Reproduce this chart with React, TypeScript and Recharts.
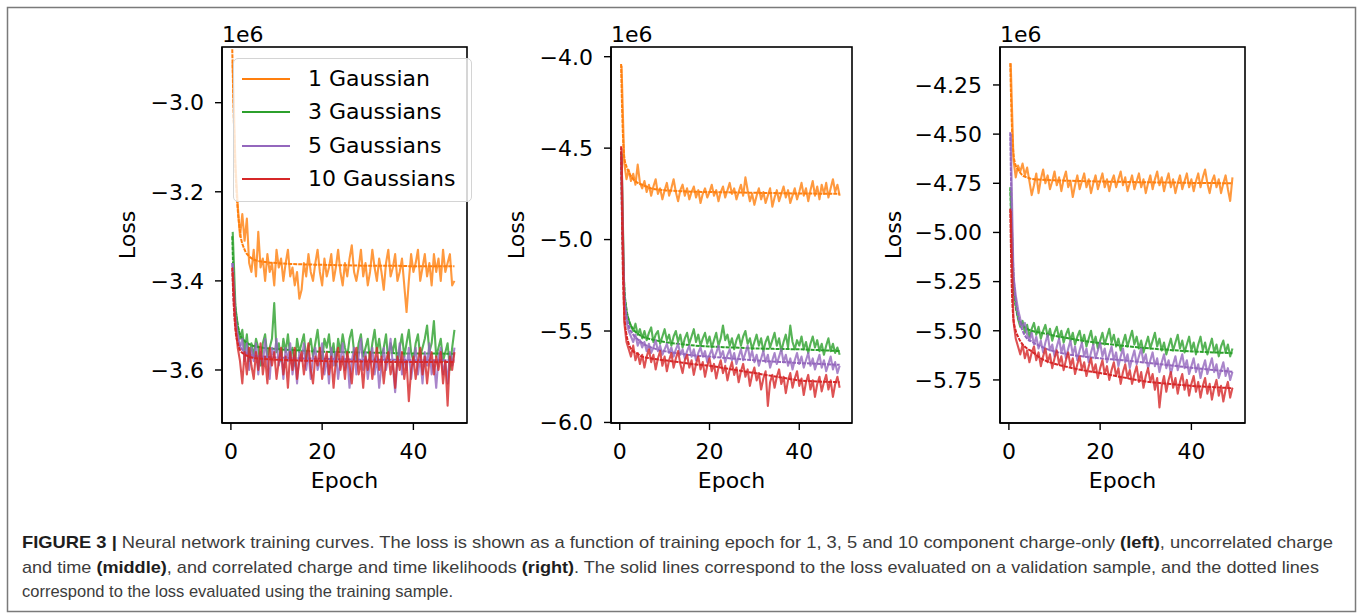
import { LineChart, Line, XAxis, YAxis, Legend } from "recharts";

const FONT = "DejaVu Sans";
const CAPTION_FONT = "Liberation Sans";

// validation points (every half epoch)
const NOISY_EPOCHS = [
  0.4, 1, 1.5, 2, 2.5, 3, 3.5, 4, 4.5, 5,
  5.5, 6, 6.5, 7, 7.5, 8, 8.5, 9, 9.5, 10,
  10.5, 11, 11.5, 12, 12.5, 13, 13.5, 14, 14.5, 15,
  15.5, 16, 16.5, 17, 17.5, 18, 18.5, 19, 19.5, 20,
  20.5, 21, 21.5, 22, 22.5, 23, 23.5, 24, 24.5, 25,
  25.5, 26, 26.5, 27, 27.5, 28, 28.5, 29, 29.5, 30,
  30.5, 31, 31.5, 32, 32.5, 33, 33.5, 34, 34.5, 35,
  35.5, 36, 36.5, 37, 37.5, 38, 38.5, 39, 39.5, 40,
  40.5, 41, 41.5, 42, 42.5, 43, 43.5, 44, 44.5, 45,
  45.5, 46, 46.5, 47, 47.5, 48, 48.5, 49,
];

// training points
const SMOOTH_EPOCHS = [0.3, 0.6, 1, 1.5, 2, 3, 4, 5, 7, 10, 13, 16, 20, 25, 30, 35, 40, 45, 49];

const SERIES_NAMES = ["1 Gaussian", "3 Gaussians", "5 Gaussians", "10 Gaussians"];
const COLORS = ["#ff7f0e", "#2ca02c", "#9467bd", "#d62728"];

const X_TICKS = [0, 20, 40];

// ---- left panel: charge-only (loss in 1e6) ----
const P1_TICKS = [-3.6, -3.4, -3.2, -3.0];
const P1_ORANGE = [
  -2.91, -3.14, -3.23, -3.30, -3.25, -3.31, -3.26, -3.36, -3.38, -3.33,
  -3.39, -3.29, -3.37, -3.35, -3.40, -3.34, -3.38, -3.36, -3.41, -3.33,
  -3.37, -3.35, -3.40, -3.36, -3.33, -3.39, -3.37, -3.41, -3.38, -3.44,
  -3.42, -3.36, -3.39, -3.34, -3.38, -3.40, -3.36, -3.33, -3.38, -3.41,
  -3.35, -3.39, -3.37, -3.34, -3.40, -3.37, -3.33, -3.38, -3.41, -3.36,
  -3.39, -3.35, -3.32, -3.38, -3.40, -3.37, -3.33, -3.39, -3.36, -3.41,
  -3.38, -3.33, -3.37, -3.40, -3.35, -3.38, -3.42, -3.36, -3.33, -3.39,
  -3.37, -3.34, -3.40, -3.38, -3.35, -3.41, -3.47, -3.40, -3.34, -3.38,
  -3.36, -3.33, -3.40, -3.37, -3.34, -3.39, -3.36, -3.41, -3.34, -3.38,
  -3.35, -3.40, -3.33, -3.38, -3.36, -3.34, -3.41, -3.40,
];
const P1_GREEN = [
  -3.29, -3.46, -3.50, -3.53, -3.51, -3.56, -3.52, -3.58, -3.54, -3.57,
  -3.53, -3.55, -3.59, -3.54, -3.52, -3.57, -3.55, -3.53, -3.45, -3.56,
  -3.54, -3.58, -3.53, -3.56, -3.52, -3.57, -3.55, -3.59, -3.53, -3.56,
  -3.54, -3.52, -3.58, -3.55, -3.53, -3.57, -3.54, -3.51, -3.56, -3.58,
  -3.53, -3.55, -3.52, -3.57, -3.54, -3.59, -3.53, -3.56, -3.52, -3.55,
  -3.57, -3.53, -3.51, -3.56, -3.58, -3.54, -3.52, -3.57, -3.55, -3.53,
  -3.58, -3.54, -3.51, -3.56, -3.53, -3.57, -3.55, -3.52, -3.58, -3.54,
  -3.56, -3.53, -3.59, -3.55, -3.52, -3.57, -3.54, -3.51, -3.56, -3.58,
  -3.54, -3.52, -3.57, -3.55, -3.53, -3.50, -3.56, -3.54, -3.49, -3.57,
  -3.55, -3.53, -3.58, -3.56, -3.54, -3.60, -3.55, -3.51,
];
const P1_PURPLE = [
  -3.36, -3.48, -3.52, -3.55, -3.53, -3.58, -3.54, -3.60, -3.55, -3.58,
  -3.54, -3.61, -3.56, -3.59, -3.53, -3.58, -3.62, -3.55, -3.57, -3.53,
  -3.59, -3.56, -3.62, -3.55, -3.58, -3.54, -3.61, -3.57, -3.63, -3.56,
  -3.58, -3.54, -3.60, -3.56, -3.62, -3.57, -3.55, -3.60, -3.58, -3.54,
  -3.61, -3.57, -3.63, -3.55, -3.59, -3.56, -3.62, -3.58, -3.54, -3.60,
  -3.57, -3.64, -3.58, -3.55, -3.61, -3.57, -3.53, -3.60, -3.56, -3.62,
  -3.58, -3.55, -3.61, -3.57, -3.64, -3.59, -3.55, -3.60, -3.57, -3.53,
  -3.59, -3.65, -3.58, -3.54, -3.61, -3.57, -3.60, -3.55, -3.62, -3.58,
  -3.55, -3.61, -3.57, -3.63, -3.56, -3.59, -3.54, -3.61, -3.58, -3.64,
  -3.57, -3.55, -3.61, -3.58, -3.63, -3.56, -3.59, -3.55,
];
const P1_RED = [
  -3.38, -3.50, -3.55, -3.58, -3.63, -3.56, -3.61, -3.55, -3.59, -3.62,
  -3.56, -3.60, -3.54, -3.61, -3.57, -3.63, -3.55, -3.59, -3.56, -3.62,
  -3.58, -3.55, -3.61, -3.57, -3.64, -3.56, -3.60, -3.55, -3.62, -3.58,
  -3.56, -3.61, -3.57, -3.54, -3.60, -3.63, -3.57, -3.59, -3.55, -3.62,
  -3.58, -3.56, -3.61, -3.57, -3.64, -3.58, -3.55, -3.60, -3.57, -3.62,
  -3.56, -3.59, -3.63, -3.57, -3.55, -3.61, -3.58, -3.64, -3.57, -3.60,
  -3.56, -3.62, -3.58, -3.55, -3.60, -3.57, -3.63, -3.58, -3.56, -3.61,
  -3.58, -3.64, -3.57, -3.60, -3.56, -3.62, -3.58, -3.67, -3.60, -3.57,
  -3.62, -3.58, -3.55, -3.61, -3.57, -3.63, -3.58, -3.56, -3.61, -3.57,
  -3.60, -3.56, -3.63, -3.58, -3.68, -3.57, -3.60, -3.56,
];
const P1_ORANGE_TRAIN = [-2.88, -3.02, -3.15, -3.24, -3.29, -3.33, -3.345, -3.352, -3.357, -3.36, -3.362, -3.363, -3.364, -3.365, -3.366, -3.366, -3.367, -3.367, -3.367];
const P1_GREEN_TRAIN = [-3.30, -3.40, -3.46, -3.50, -3.52, -3.535, -3.542, -3.546, -3.55, -3.553, -3.555, -3.557, -3.559, -3.56, -3.561, -3.562, -3.563, -3.563, -3.564];
const P1_PURPLE_TRAIN = [-3.36, -3.44, -3.50, -3.53, -3.545, -3.56, -3.565, -3.568, -3.57, -3.572, -3.573, -3.574, -3.575, -3.576, -3.577, -3.577, -3.578, -3.578, -3.578];
const P1_RED_TRAIN = [-3.37, -3.45, -3.51, -3.54, -3.555, -3.565, -3.57, -3.573, -3.575, -3.577, -3.578, -3.579, -3.58, -3.581, -3.581, -3.582, -3.582, -3.582, -3.582];

// ---- middle panel: uncorrelated charge and time ----
const P2_TICKS = [-6.0, -5.5, -5.0, -4.5, -4.0];
const P2_ORANGE = [
  -4.05, -4.58, -4.67, -4.62, -4.68, -4.64, -4.70, -4.59, -4.69, -4.72,
  -4.68, -4.74, -4.70, -4.76, -4.71, -4.67, -4.75, -4.72, -4.78, -4.73,
  -4.69, -4.76, -4.72, -4.67, -4.74, -4.79, -4.73, -4.70, -4.76, -4.72,
  -4.78, -4.74, -4.71, -4.77, -4.73, -4.80, -4.75, -4.72, -4.77, -4.74,
  -4.70, -4.76, -4.73, -4.79, -4.74, -4.71, -4.77, -4.73, -4.69, -4.75,
  -4.72, -4.78, -4.74, -4.70, -4.76, -4.66, -4.73, -4.79, -4.75, -4.81,
  -4.76, -4.72, -4.78, -4.74, -4.80, -4.76, -4.72, -4.82, -4.77, -4.73,
  -4.79, -4.75, -4.71, -4.77, -4.73, -4.80, -4.76, -4.72, -4.78, -4.74,
  -4.69, -4.76, -4.72, -4.79, -4.73, -4.68, -4.76, -4.71, -4.78, -4.70,
  -4.75, -4.69, -4.77, -4.72, -4.67, -4.74, -4.70, -4.76,
];
const P2_GREEN = [
  -4.53, -5.29, -5.40, -5.44, -5.47, -5.50, -5.46, -5.52, -5.49, -5.54,
  -5.50, -5.55, -5.51, -5.48, -5.56, -5.52, -5.50, -5.57, -5.53, -5.49,
  -5.55, -5.52, -5.58, -5.53, -5.50, -5.56, -5.52, -5.59, -5.54, -5.51,
  -5.57, -5.53, -5.49, -5.56, -5.52, -5.58, -5.54, -5.51, -5.57, -5.53,
  -5.59, -5.55, -5.51, -5.58, -5.54, -5.47, -5.55, -5.52, -5.58, -5.54,
  -5.60, -5.55, -5.52, -5.58, -5.53, -5.50, -5.57, -5.54, -5.60, -5.56,
  -5.52, -5.58, -5.54, -5.61, -5.56, -5.53, -5.59, -5.55, -5.51, -5.58,
  -5.54, -5.61, -5.56, -5.52, -5.59, -5.47, -5.56, -5.60, -5.55, -5.58,
  -5.53, -5.60, -5.56, -5.62, -5.57, -5.53, -5.59, -5.55, -5.61, -5.57,
  -5.63, -5.58, -5.54, -5.61, -5.57, -5.62, -5.59, -5.63,
];
const P2_PURPLE = [
  -4.55, -5.34, -5.45, -5.50, -5.53, -5.56, -5.52, -5.58, -5.55, -5.59,
  -5.56, -5.61, -5.57, -5.62, -5.59, -5.55, -5.61, -5.58, -5.63, -5.60,
  -5.57, -5.62, -5.59, -5.64, -5.60, -5.57, -5.63, -5.60, -5.65, -5.61,
  -5.58, -5.64, -5.60, -5.66, -5.62, -5.59, -5.64, -5.61, -5.67, -5.63,
  -5.60, -5.65, -5.62, -5.58, -5.64, -5.61, -5.67, -5.63, -5.60, -5.66,
  -5.62, -5.68, -5.64, -5.60, -5.66, -5.62, -5.58, -5.65, -5.61, -5.67,
  -5.63, -5.69, -5.65, -5.61, -5.67, -5.63, -5.70, -5.66, -5.62, -5.68,
  -5.64, -5.60, -5.67, -5.63, -5.69, -5.65, -5.71, -5.66, -5.62, -5.68,
  -5.64, -5.70, -5.66, -5.62, -5.69, -5.65, -5.71, -5.67, -5.63, -5.70,
  -5.66, -5.72, -5.68, -5.64, -5.71, -5.67, -5.73, -5.69,
];
const P2_RED = [
  -4.50, -5.45, -5.56, -5.60, -5.64, -5.58, -5.66, -5.62, -5.68, -5.63,
  -5.70, -5.64, -5.60, -5.67, -5.63, -5.71, -5.65, -5.61, -5.69, -5.64,
  -5.72, -5.66, -5.62, -5.70, -5.65, -5.61, -5.68, -5.73, -5.66, -5.63,
  -5.70, -5.66, -5.74, -5.68, -5.64, -5.71, -5.67, -5.75, -5.69, -5.65,
  -5.72, -5.68, -5.76, -5.70, -5.66, -5.73, -5.69, -5.77, -5.71, -5.67,
  -5.74, -5.70, -5.78, -5.72, -5.68, -5.75, -5.71, -5.80, -5.74, -5.70,
  -5.77, -5.73, -5.82, -5.76, -5.72, -5.91, -5.78, -5.74, -5.81, -5.75,
  -5.71, -5.79, -5.75, -5.84, -5.77, -5.73, -5.81, -5.76, -5.72, -5.80,
  -5.76, -5.85, -5.78, -5.74, -5.82, -5.77, -5.86, -5.79, -5.75, -5.83,
  -5.78, -5.74, -5.82, -5.77, -5.86, -5.79, -5.75, -5.81,
];
const P2_ORANGE_TRAIN = [-4.04, -4.35, -4.55, -4.60, -4.63, -4.67, -4.69, -4.70, -4.72, -4.73, -4.735, -4.738, -4.74, -4.742, -4.744, -4.746, -4.748, -4.749, -4.75];
const P2_GREEN_TRAIN = [-4.52, -4.95, -5.25, -5.38, -5.44, -5.49, -5.515, -5.53, -5.545, -5.56, -5.57, -5.578, -5.585, -5.59, -5.595, -5.598, -5.60, -5.605, -5.61];
const P2_PURPLE_TRAIN = [-4.54, -4.98, -5.28, -5.41, -5.47, -5.52, -5.545, -5.565, -5.59, -5.61, -5.622, -5.632, -5.64, -5.65, -5.66, -5.668, -5.675, -5.68, -5.685];
const P2_RED_TRAIN = [-4.49, -5.05, -5.40, -5.52, -5.57, -5.61, -5.625, -5.64, -5.65, -5.66, -5.67, -5.68, -5.69, -5.71, -5.73, -5.75, -5.77, -5.777, -5.78];

// ---- right panel: correlated charge and time ----
const P3_TICKS = [-5.75, -5.5, -5.25, -5.0, -4.75, -4.5, -4.25];
const P3_ORANGE = [
  -4.14, -4.63, -4.72, -4.66, -4.69, -4.65, -4.71, -4.67, -4.74, -4.81,
  -4.76, -4.70, -4.80, -4.73, -4.68, -4.75, -4.71, -4.78, -4.74, -4.69,
  -4.76, -4.72, -4.79, -4.73, -4.69, -4.77, -4.74, -4.82, -4.76, -4.71,
  -4.78, -4.74, -4.70, -4.77, -4.73, -4.80, -4.75, -4.71, -4.78, -4.74,
  -4.70, -4.77, -4.73, -4.79, -4.74, -4.71, -4.77, -4.73, -4.69, -4.76,
  -4.72, -4.79, -4.75, -4.71, -4.78, -4.74, -4.70, -4.77, -4.73, -4.80,
  -4.75, -4.71, -4.78, -4.73, -4.69, -4.76, -4.72, -4.79, -4.74, -4.70,
  -4.77, -4.73, -4.80, -4.75, -4.71, -4.78, -4.74, -4.70, -4.77, -4.73,
  -4.79, -4.74, -4.70, -4.77, -4.72, -4.68, -4.75, -4.80, -4.74, -4.71,
  -4.77, -4.73, -4.80, -4.75, -4.71, -4.78, -4.84, -4.72,
];
const P3_GREEN = [
  -4.78, -5.26, -5.36, -5.44, -5.48, -5.45, -5.51, -5.47, -5.53, -5.49,
  -5.46, -5.52, -5.48, -5.54, -5.50, -5.47, -5.53, -5.49, -5.55, -5.51,
  -5.48, -5.54, -5.50, -5.56, -5.52, -5.49, -5.55, -5.51, -5.57, -5.53,
  -5.50, -5.56, -5.52, -5.58, -5.54, -5.50, -5.57, -5.53, -5.59, -5.55,
  -5.51, -5.57, -5.53, -5.49, -5.56, -5.52, -5.58, -5.54, -5.60, -5.56,
  -5.52, -5.58, -5.54, -5.50, -5.57, -5.53, -5.59, -5.55, -5.61, -5.57,
  -5.53, -5.59, -5.55, -5.51, -5.58, -5.54, -5.60, -5.56, -5.62, -5.58,
  -5.54, -5.60, -5.56, -5.52, -5.59, -5.55, -5.61, -5.57, -5.53, -5.60,
  -5.56, -5.62, -5.57, -5.53, -5.60, -5.56, -5.62, -5.58, -5.54, -5.61,
  -5.57, -5.63, -5.58, -5.55, -5.61, -5.57, -5.63, -5.59,
];
const P3_PURPLE = [
  -4.50, -5.22, -5.32, -5.39, -5.44, -5.48, -5.46, -5.52, -5.55, -5.51,
  -5.57, -5.53, -5.59, -5.55, -5.61, -5.56, -5.52, -5.60, -5.57, -5.63,
  -5.58, -5.54, -5.61, -5.57, -5.64, -5.59, -5.55, -5.62, -5.58, -5.65,
  -5.60, -5.56, -5.63, -5.59, -5.66, -5.61, -5.57, -5.64, -5.60, -5.56,
  -5.63, -5.59, -5.66, -5.62, -5.58, -5.65, -5.61, -5.68, -5.63, -5.59,
  -5.66, -5.62, -5.69, -5.64, -5.60, -5.67, -5.63, -5.59, -5.66, -5.62,
  -5.69, -5.65, -5.61, -5.68, -5.64, -5.71, -5.66, -5.62, -5.69, -5.65,
  -5.72, -5.67, -5.63, -5.70, -5.66, -5.62, -5.69, -5.65, -5.72, -5.68,
  -5.64, -5.71, -5.67, -5.74, -5.69, -5.65, -5.72, -5.68, -5.64, -5.71,
  -5.67, -5.74, -5.70, -5.66, -5.73, -5.69, -5.75, -5.71,
];
const P3_RED = [
  -4.89, -5.45, -5.54, -5.58, -5.62, -5.57, -5.64, -5.60, -5.66, -5.61,
  -5.58, -5.65, -5.61, -5.68, -5.63, -5.59, -5.66, -5.62, -5.69, -5.64,
  -5.60, -5.67, -5.63, -5.70, -5.65, -5.61, -5.68, -5.64, -5.72, -5.67,
  -5.63, -5.70, -5.66, -5.73, -5.68, -5.64, -5.71, -5.67, -5.74, -5.69,
  -5.65, -5.72, -5.68, -5.75, -5.70, -5.66, -5.73, -5.69, -5.77, -5.71,
  -5.67, -5.74, -5.70, -5.77, -5.72, -5.68, -5.76, -5.71, -5.79, -5.73,
  -5.69, -5.76, -5.72, -5.80, -5.74, -5.89, -5.78, -5.73, -5.81, -5.75,
  -5.71, -5.79, -5.74, -5.82, -5.76, -5.72, -5.80, -5.75, -5.83, -5.77,
  -5.73, -5.81, -5.76, -5.84, -5.78, -5.74, -5.82, -5.77, -5.85, -5.79,
  -5.75, -5.83, -5.78, -5.86, -5.80, -5.76, -5.84, -5.79,
];
const P3_ORANGE_TRAIN = [-4.14, -4.42, -4.60, -4.66, -4.68, -4.71, -4.72, -4.728, -4.732, -4.735, -4.737, -4.739, -4.741, -4.743, -4.745, -4.746, -4.748, -4.749, -4.75];
const P3_GREEN_TRAIN = [-4.77, -5.05, -5.27, -5.38, -5.43, -5.47, -5.49, -5.50, -5.51, -5.525, -5.538, -5.55, -5.563, -5.576, -5.588, -5.597, -5.605, -5.61, -5.614];
const P3_PURPLE_TRAIN = [-4.49, -4.90, -5.20, -5.35, -5.42, -5.50, -5.54, -5.555, -5.58, -5.605, -5.62, -5.63, -5.64, -5.65, -5.662, -5.675, -5.688, -5.70, -5.708];
const P3_RED_TRAIN = [-4.88, -5.25, -5.44, -5.50, -5.53, -5.57, -5.59, -5.605, -5.64, -5.668, -5.685, -5.70, -5.715, -5.737, -5.758, -5.77, -5.78, -5.787, -5.792];

type PanelCfg = {
  left: number;
  width: number;
  yw: number;
  domain: [number, number];
  ticks: number[];
  digits: number;
  valid: number[][];
  train: number[][];
  legend?: boolean;
};

const PLOT_TOP = 47;
const PLOT_H = 376;
const X_DOMAIN: [number, number] = [-1.95, 51.75];

const PANELS: PanelCfg[] = [
  {
    left: 222, width: 245, yw: 190, domain: [-3.719, -2.875], ticks: P1_TICKS, digits: 1,
    valid: [P1_ORANGE, P1_GREEN, P1_PURPLE, P1_RED],
    train: [P1_ORANGE_TRAIN, P1_GREEN_TRAIN, P1_PURPLE_TRAIN, P1_RED_TRAIN],
    legend: true,
  },
  {
    left: 611, width: 241, yw: 189, domain: [-6.003, -3.947], ticks: P2_TICKS, digits: 1,
    valid: [P2_ORANGE, P2_GREEN, P2_PURPLE, P2_RED],
    train: [P2_ORANGE_TRAIN, P2_GREEN_TRAIN, P2_PURPLE_TRAIN, P2_RED_TRAIN],
  },
  {
    left: 1000, width: 245, yw: 214, domain: [-5.969, -4.057], ticks: P3_TICKS, digits: 2,
    valid: [P3_ORANGE, P3_GREEN, P3_PURPLE, P3_RED],
    train: [P3_ORANGE_TRAIN, P3_GREEN_TRAIN, P3_PURPLE_TRAIN, P3_RED_TRAIN],
  },
];

const toRows = (xs: number[], ys: number[]) =>
  xs.map((epoch, i) => ({ epoch, loss: ys[i] }));

function LegendBox() {
  return (
    <div
      style={{
        position: "relative",
        boxSizing: "border-box",
        width: 239,
        height: 144,
        border: "1px solid #d4d4d4",
        borderRadius: 5,
        background: "rgba(255,255,255,0.8)",
        fontFamily: FONT,
        fontSize: 22,
        color: "#000",
      }}
    >
      {SERIES_NAMES.map((name, i) => (
        <div
          key={name}
          style={{
            position: "absolute",
            left: 0,
            top: 20 + i * 33.4 - 16,
            height: 32,
            display: "flex",
            alignItems: "center",
            whiteSpace: "nowrap",
          }}
        >
          <span style={{ display: "inline-block", marginLeft: 8, width: 48, height: 2, background: COLORS[i] }} />
          <span style={{ marginLeft: 18, lineHeight: "32px" }}>{name}</span>
        </div>
      ))}
    </div>
  );
}

function Panel({ cfg }: { cfg: PanelCfg }) {
  const chartLeft = cfg.left - cfg.yw;
  const chartTop = PLOT_TOP - 10;
  const fmt = (v: number) => "\u2212" + Math.abs(v).toFixed(cfg.digits);
  const tickStyle = { fill: "#000", fontSize: 22, fontFamily: FONT };

  return (
    <div style={{ position: "absolute", left: chartLeft, top: chartTop }}>
      <LineChart
        width={cfg.yw + cfg.width + 12}
        height={10 + PLOT_H + 115}
        margin={{ top: 10, right: 12, bottom: 0, left: 0 }}
      >
        <XAxis
          dataKey="epoch"
          type="number"
          domain={X_DOMAIN}
          ticks={X_TICKS}
          allowDataOverflow
          height={115}
          tickSize={7}
          tickMargin={13}
          tick={tickStyle}
          axisLine={{ stroke: "#000", strokeWidth: 1.6 }}
          tickLine={{ stroke: "#000", strokeWidth: 1.4 }}
          label={{ value: "Epoch", position: "center", fill: "#000", fontSize: 22, fontFamily: FONT }}
        />
        <YAxis
          type="number"
          domain={cfg.domain}
          ticks={cfg.ticks}
          allowDataOverflow
          width={cfg.yw}
          tickSize={7}
          tickMargin={11}
          tickFormatter={fmt}
          tick={tickStyle}
          axisLine={{ stroke: "#000", strokeWidth: 1.6 }}
          tickLine={{ stroke: "#000", strokeWidth: 1.4 }}
          label={{ value: "Loss", angle: -90, position: "center", fill: "#000", fontSize: 22, fontFamily: FONT }}
        />
        {cfg.valid.map((vals, i) => [
          <Line
            key={"v" + i}
            name={SERIES_NAMES[i]}
            data={toRows(NOISY_EPOCHS, vals)}
            dataKey="loss"
            type="linear"
            stroke={COLORS[i]}
            strokeOpacity={0.8}
            strokeWidth={2.1}
            strokeLinejoin="round"
            dot={false}
            activeDot={false}
            isAnimationActive={false}
          />,
          <Line
            key={"t" + i}
            name={SERIES_NAMES[i] + " (train)"}
            data={toRows(SMOOTH_EPOCHS, cfg.train[i])}
            dataKey="loss"
            type="monotone"
            stroke={COLORS[i]}
            strokeWidth={2}
            strokeDasharray="4 1"
            dot={false}
            activeDot={false}
            isAnimationActive={false}
          />,
        ])}
        {cfg.legend && (
          <Legend
            layout="horizontal"
            verticalAlign="middle"
            align="center"
            wrapperStyle={{ left: 233 - chartLeft, top: 58 - chartTop, width: 239, height: 144 }}
            content={() => <LegendBox />}
          />
        )}
      </LineChart>
    </div>
  );
}

export default function App() {
  const bold = { fontWeight: 700, fill: "#1e1e1e" };
  return (
    <div style={{ position: "absolute", left: 0, top: 0, width: 1360, height: 615, background: "#fff" }}>
      <svg width={1360} height={615} style={{ position: "absolute", left: 0, top: 0 }}>
        <rect x={7.5} y={7.5} width={1348} height={604} fill="none" stroke="#7a7a7a" strokeWidth={1.5} />
        {PANELS.map((p) => (
          <rect key={p.left} x={p.left} y={PLOT_TOP} width={p.width} height={PLOT_H} fill="none" stroke="#000" strokeWidth={1.6} />
        ))}
        {PANELS.map((p) => (
          <text key={"e" + p.left} x={p.left} y={41.5} fontFamily={FONT} fontSize={22} fill="#000">
            1e6
          </text>
        ))}
        <g fontFamily={CAPTION_FONT} fontSize={17} fill="#3c3c3c">
          <text x={22} y={548} textLength={1311} lengthAdjust="spacingAndGlyphs">
            <tspan {...bold}>{"FIGURE 3 | "}</tspan>
            {"Neural network training curves. The loss is shown as a function of training epoch for 1, 3, 5 and 10 component charge-only "}
            <tspan {...bold}>(left)</tspan>
            {", uncorrelated charge"}
          </text>
          <text x={22} y={572.5} textLength={1297} lengthAdjust="spacingAndGlyphs">
            {"and time "}
            <tspan {...bold}>(middle)</tspan>
            {", and correlated charge and time likelihoods "}
            <tspan {...bold}>(right)</tspan>
            {". The solid lines correspond to the loss evaluated on a validation sample, and the dotted lines"}
          </text>
          <text x={22} y={597} textLength={431} lengthAdjust="spacingAndGlyphs">
            correspond to the loss evaluated using the training sample.
          </text>
        </g>
      </svg>
      {PANELS.map((p) => (
        <Panel key={p.left} cfg={p} />
      ))}
    </div>
  );
}
